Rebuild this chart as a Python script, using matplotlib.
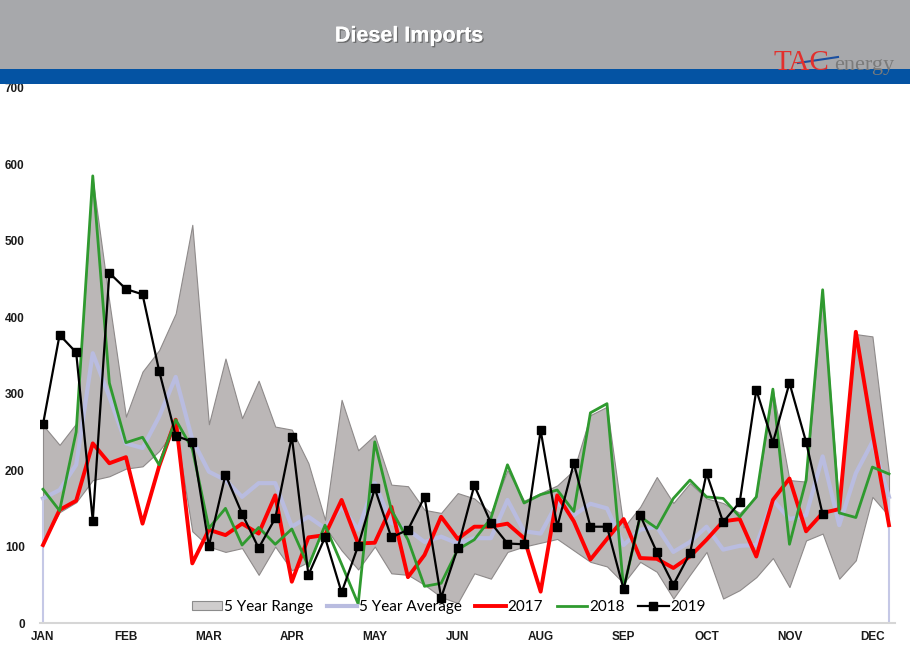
import matplotlib
matplotlib.use("Agg")
import matplotlib.pyplot as plt
import matplotlib.patheffects as pe
from matplotlib.patches import Rectangle, Patch
from matplotlib.lines import Line2D

# weekly diesel imports, week 0 = first week of January
month_labels = ["JAN", "FEB", "MAR", "APR", "MAY", "JUN", "AUG", "SEP", "OCT", "NOV", "DEC"]

range_hi = [259, 233, 261, 580, 420, 270, 329, 357, 405, 521,
            260, 346, 268, 317, 257, 253, 209, 135, 292, 226,
            246, 181, 179, 148, 144, 170, 163, 144, 200, 160,
            170, 180, 200, 272, 283, 125, 152, 191, 157, 183,
            163, 157, 144, 165, 305, 187, 185, 431, 150, 378,
            375, 196]
range_lo = [105, 145, 158, 187, 192, 202, 205, 225, 255, 120,
            100, 93, 98, 63, 100, 69, 80, 126, 95, 70,
            100, 65, 63, 50, 34, 26, 65, 58, 93, 100,
            105, 110, 95, 80, 74, 52, 80, 67, 32, 63,
            93, 32, 43, 60, 85, 47, 108, 117, 58, 82,
            165, 140]
avg_5yr = [163, 174, 207, 353, 296, 235, 229, 270, 322, 240,
           198, 187, 165, 183, 183, 126, 139, 124, 152, 122,
           183, 131, 122, 106, 113, 104, 111, 111, 161, 120,
           117, 157, 141, 156, 150, 102, 122, 126, 93, 106,
           126, 96, 101, 102, 161, 136, 141, 218, 128, 196,
           237, 165]
y2017 = [102, 148, 160, 235, 209, 217, 130, 205, 266, 78,
         122, 115, 130, 117, 167, 54, 112, 115, 161, 104,
         105, 152, 60, 89, 139, 110, 126, 126, 130, 111,
         41, 167, 133, 83, 110, 136, 85, 84, 72, 87,
         109, 133, 136, 87, 161, 189, 120, 144, 149, 381,
         250, 128]
y2018 = [175, 147, 250, 585, 314, 236, 243, 207, 266, 228,
         124, 150, 102, 125, 103, 123, 74, 128, 77, 25,
         237, 148, 109, 48, 52, 96, 109, 137, 207, 157,
         168, 174, 146, 275, 287, 45, 139, 124, 163, 187,
         165, 163, 139, 165, 306, 103, 187, 436, 144, 138,
         204, 195]
y2019 = [260, 377, 354, 134, 458, 437, 430, 330, 245, 237,
         101, 194, 143, 98, 137, 244, 63, 112, 40, 101,
         176, 112, 122, 165, 33, 98, 180, 131, 104, 103,
         252, 126, 209, 126, 126, 44, 141, 93, 50, 91,
         196, 132, 158, 305, 236, 314, 237, 142]

weeks = list(range(len(avg_5yr)))

fig = plt.figure(figsize=(9.1, 6.61), dpi=100)

# header bands
fig.add_artist(Rectangle((0, 1 - 69 / 661), 1, 69 / 661, transform=fig.transFigure,
                         facecolor="#a7a8ab", edgecolor="none"))
fig.add_artist(Rectangle((0, 1 - 84 / 661), 1, 15 / 661, transform=fig.transFigure,
                         facecolor="#0453a3", edgecolor="none"))
fig.text(409 / 910, 1 - 36 / 661, "Diesel Imports", color="white", fontsize=15.5,
         fontweight="bold", family="Liberation Sans", ha="center", va="center",
         path_effects=[pe.withSimplePatchShadow(offset=(1, -1), shadow_rgbFace="#444444", alpha=0.6), pe.Normal()])
fig.text(829 / 910, 1 - 70 / 661, "TAC", color="#e2302d", fontsize=21,
         family="Liberation Serif", ha="right", va="baseline")
fig.text(894 / 910, 1 - 70 / 661, "energy", color="#7b7b7b", fontsize=16,
         family="Liberation Serif", ha="right", va="baseline")
fig.add_artist(Line2D([798 / 910, 838 / 910], [1 - 63 / 661, 1 - 57 / 661],
                      transform=fig.transFigure, color="#1b4fa0", lw=1.5))

ax = fig.add_axes([40 / 910, 38 / 661, 855 / 910, 535 / 661])

ax.fill_between(weeks, range_lo, range_hi, facecolor="#bbb7b7", edgecolor="#8e8a8a",
                linewidth=0.8, zorder=1)
ax.plot(weeks, avg_5yr, color="#b9bce0", lw=3, zorder=2)
ax.vlines([weeks[0], weeks[-1]], 0, [avg_5yr[0], avg_5yr[-1]], color="#c5c8e6", lw=1.5, zorder=2)
ax.plot(weeks, y2017, color="#ff0000", lw=2.8, zorder=3)
ax.plot(weeks, y2018, color="#2f9a2f", lw=2.0, zorder=4)
ax.plot(weeks[:len(y2019)], y2019, color="black", lw=1.6, marker="s", markersize=6, zorder=5)

ax.set_xlim(-3 / 16.6, 51 + 6 / 16.6)
ax.set_ylim(0, 700)
ax.set_yticks(range(0, 701, 100))
ax.set_xticks(weeks[::5])
ax.set_xticklabels(month_labels)
for lab in ax.get_xticklabels() + ax.get_yticklabels():
    lab.set_fontweight("bold")
    lab.set_family("Liberation Sans")
    lab.set_fontsize(8.5)
    lab.set_color("#1a1a1a")
ax.tick_params(axis="x", length=0, pad=6)
ax.tick_params(axis="y", length=0, pad=11)

for side in ["top", "right", "left"]:
    ax.spines[side].set_visible(False)
ax.spines["bottom"].set_color("#d6d6d6")
ax.spines["bottom"].set_linewidth(1.5)

handles = [
    Patch(facecolor="#cfcdcd", edgecolor="#8c8c8c", linewidth=0.8),
    Line2D([], [], color="#b9bce0", lw=3),
    Line2D([], [], color="#ff0000", lw=2.8),
    Line2D([], [], color="#2f9a2f", lw=2.0),
    Line2D([], [], color="black", lw=1.6, marker="s", markersize=6),
]
labels = ["5 Year Range", "5 Year Average", "2017", "2018", "2019"]
ax.legend(handles, labels, loc="center", bbox_to_anchor=(0.478, 0.03), ncol=5,
          frameon=False, prop={"family": "Lato", "size": 11}, handlelength=2.0,
          handletextpad=0.1, columnspacing=0.9, handleheight=0.6)

fig.savefig("out.png", dpi=100)
